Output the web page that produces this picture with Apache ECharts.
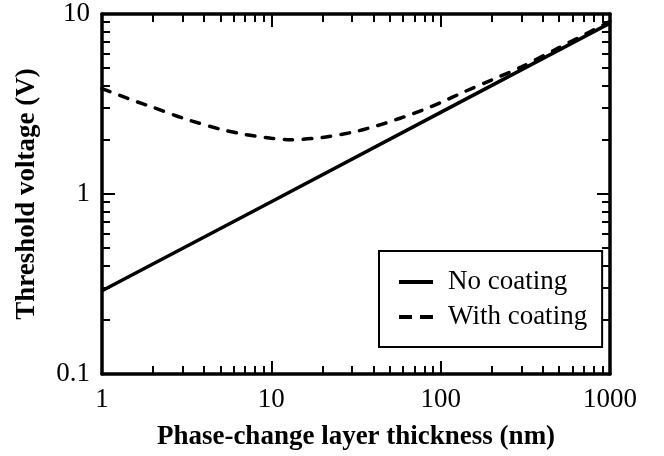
<!DOCTYPE html>
<html>
<head>
<meta charset="utf-8">
<script src="https://cdn.jsdelivr.net/npm/echarts@6/dist/echarts.min.js"></script>
<style>
  html, body { margin: 0; padding: 0; background: #fff; }
  #chart { width: 664px; height: 456px; }
</style>
</head>
<body>
<div id="chart"></div>
<script>
// thickness (nm) and threshold voltage (V)
var xNoCoat = [1, 10, 100, 1000];
var vNoCoat = [0.29, 0.905, 2.84, 8.9];

var xCoat = [1, 1.5, 2, 3, 5, 7, 10, 13, 20, 30, 40, 50, 65, 80, 100, 140, 200, 300, 500, 700, 1000];
var vCoat = [3.85, 3.33, 3.03, 2.64, 2.29, 2.14, 2.04, 2.0, 2.06, 2.2, 2.36, 2.52, 2.74, 2.95, 3.22, 3.72, 4.3, 5.08, 6.5, 7.65, 9.1];

var seriesNames = ['No coating', 'With coating'];

// tick positions
var xMajor = [1, 10, 100, 1000];
var xMinor = [2, 3, 4, 5, 6, 7, 8, 9, 20, 30, 40, 50, 60, 70, 80, 90, 200, 300, 400, 500, 600, 700, 800, 900];
var yMajor = [0.1, 1, 10];
var yMinor = [0.2, 0.3, 0.4, 0.5, 0.6, 0.7, 0.8, 0.9, 2, 3, 4, 5, 6, 7, 8, 9];

var FONT = 'Liberation Serif';

function pairs(xs, ys) {
  var out = [];
  for (var i = 0; i < xs.length; i++) out.push([xs[i], ys[i]]);
  return out;
}

// builds one log axis; labelled main axis or a tick-only copy
function logAxis(pos, min, max, ticks, len, main, name) {
  var ax = {
    type: 'log',
    logBase: 10,
    position: pos,
    min: min,
    max: max,
    splitLine: { show: false },
    axisLine: { show: main, onZero: false, lineStyle: { color: '#000', width: 3.5 } },
    axisTick: { show: true, inside: true, length: len, customValues: ticks,
      lineStyle: { color: '#000', width: 2 } },
    axisLabel: { show: false }
  };
  if (name) {
    ax.name = name;
    ax.nameLocation = 'middle';
    ax.nameTextStyle = { fontFamily: FONT, fontWeight: 'bold', fontSize: 27, color: '#000' };
    ax.axisLabel = { show: true, customValues: ticks, margin: 12,
      fontFamily: FONT, fontSize: 27, color: '#000',
      formatter: function (v) { return String(v); } };
  }
  return ax;
}

var xAxes = [
  logAxis('bottom', 1, 1000, xMajor, 13, true, 'Phase-change layer thickness (nm)'),
  logAxis('bottom', 1, 1000, xMinor, 8, false),
  logAxis('top', 1, 1000, xMajor, 13, true),
  logAxis('top', 1, 1000, xMinor, 8, false)
];
xAxes[0].nameGap = 50;

var yAxes = [
  logAxis('left', 0.1, 10, yMajor, 13, true, 'Threshold voltage (V)'),
  logAxis('left', 0.1, 10, yMinor, 8, false),
  logAxis('right', 0.1, 10, yMajor, 13, true),
  logAxis('right', 0.1, 10, yMinor, 8, false)
];
yAxes[0].nameGap = 61;

var chart = echarts.init(document.getElementById('chart'));
chart.setOption({
  animation: false,
  backgroundColor: '#fff',
  grid: { left: 102, right: 54, top: 14, bottom: 79, containLabel: false },
  xAxis: xAxes,
  yAxis: yAxes,
  legend: {
    orient: 'vertical',
    left: 379,
    top: 251,
    padding: [16, 15, 15, 20],
    itemGap: 5,
    itemWidth: 34,
    itemHeight: 4,
    borderColor: '#000',
    borderWidth: 2,
    borderRadius: 0,
    textStyle: { fontFamily: FONT, fontSize: 27, color: '#000', lineHeight: 30, padding: [0, 0, 0, 10] },
    data: [
      { name: seriesNames[0], icon: 'path://M0,0h34v4h-34z', itemStyle: { color: '#000' } },
      { name: seriesNames[1], icon: 'path://M0,0h13v4h-13zM21,0h13v4h-13z', itemStyle: { color: '#000' } }
    ]
  },
  series: [
    {
      name: seriesNames[0],
      type: 'line',
      showSymbol: false,
      symbol: 'none',
      xAxisIndex: 0,
      yAxisIndex: 0,
      data: pairs(xNoCoat, vNoCoat),
      lineStyle: { color: '#000', width: 3.5 },
      itemStyle: { color: '#000' }
    },
    {
      name: seriesNames[1],
      type: 'line',
      smooth: 0.25,
      showSymbol: false,
      symbol: 'none',
      xAxisIndex: 0,
      yAxisIndex: 0,
      data: pairs(xCoat, vCoat),
      lineStyle: { color: '#000', width: 3.5, type: [8.5, 10.5], cap: 'round' },
      itemStyle: { color: '#000' }
    }
  ]
});
</script>
</body>
</html>
